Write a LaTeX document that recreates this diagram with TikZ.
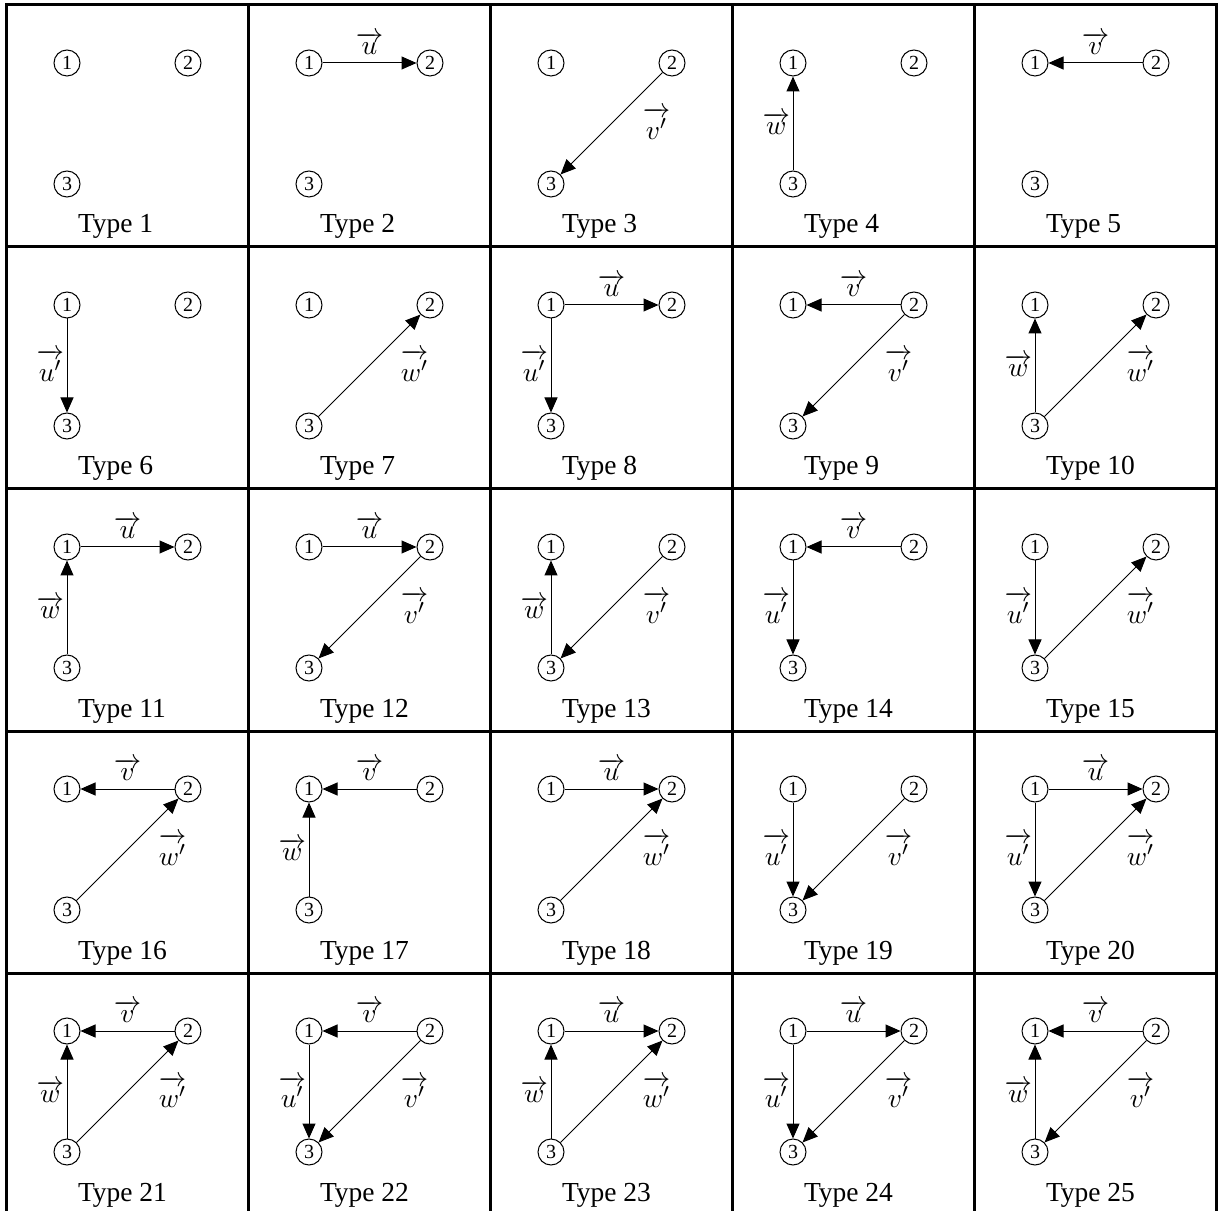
\documentclass[tikz,border=0pt]{standalone}
\usepackage{amsmath,amssymb}
\usepackage{fontspec}
\setmainfont{Liberation Serif}
\usepackage{tikz}
\usetikzlibrary{arrows.meta,calc,positioning}
\newcommand{\vecu}{\overrightarrow{u}}
\newcommand{\vecv}{\overrightarrow{v}}
\newcommand{\vecw}{\overrightarrow{w}}
\newcommand{\vecup}{\overrightarrow{u'}}
\newcommand{\vecvp}{\overrightarrow{v'}}
\newcommand{\vecwp}{\overrightarrow{w'}}
\newcommand{\typecell}[3]{%
  \begin{scope}[shift={(6.5+242*#2,5+242*#3)}]
    \node[pt] (t#1-1) at (60.5,58) {1};
    \node[pt] (t#1-2) at (181.5,58) {2};
    \node[pt] (t#1-3) at (60.5,179) {3};
    \node[lbl] (l#1) at (71,228) {Type #1};
  \end{scope}}
\newcommand{\edgeu}[1]{\draw[vec] (t#1-1) -- node[above] {$\vecu$} (t#1-2);}
\newcommand{\edgev}[1]{\draw[vec] (t#1-2) -- node[above] {$\vecv$} (t#1-1);}
\newcommand{\edgew}[1]{\draw[vec] (t#1-3) -- node[left,inner sep=1pt] {$\vecw$} (t#1-1);}
\newcommand{\edgeup}[1]{\draw[vec] (t#1-1) -- node[left,inner sep=1pt] {$\vecup$} (t#1-3);}
\newcommand{\edgevp}[1]{\draw[vec] (t#1-2) -- node[right=9pt] {$\vecvp$} (t#1-3);}
\newcommand{\edgewp}[1]{\draw[vec] (t#1-3) -- node[right=9pt] {$\vecwp$} (t#1-2);}

\begin{document}
\begin{tikzpicture}[x=0.4pt,y=-0.4pt,font=\fontsize{11}{13}\selectfont,
  pt/.style={circle,draw,line width=0.4pt,minimum size=10.4pt,inner sep=0pt,font=\fontsize{8}{9}\selectfont},
  lbl/.style={anchor=base west,inner sep=0pt},
  vec/.style={line width=0.4pt,-{Triangle[length=6pt,width=5.2pt]}},
  grid/.style={line width=1.2pt}]
  \useasboundingbox (0,0) rectangle (1220,1211);
  \draw[grid] (6.5,5) rectangle (1216.5,1214);
  \foreach \i in {1,...,4} {
    \draw[grid] (6.5+242*\i,5) -- (6.5+242*\i,1214);
    \draw[grid] (6.5,5+242*\i) -- (1216.5,5+242*\i);
  }
  \typecell{1}{0}{0}
  \typecell{2}{1}{0} \edgeu{2}
  \typecell{3}{2}{0} \edgevp{3}
  \typecell{4}{3}{0} \edgew{4}
  \typecell{5}{4}{0} \edgev{5}
  \typecell{6}{0}{1} \edgeup{6}
  \typecell{7}{1}{1} \edgewp{7}
  \typecell{8}{2}{1} \edgeu{8} \edgeup{8}
  \typecell{9}{3}{1} \edgev{9} \edgevp{9}
  \typecell{10}{4}{1} \edgew{10} \edgewp{10}
  \typecell{11}{0}{2} \edgeu{11} \edgew{11}
  \typecell{12}{1}{2} \edgeu{12} \edgevp{12}
  \typecell{13}{2}{2} \edgew{13} \edgevp{13}
  \typecell{14}{3}{2} \edgev{14} \edgeup{14}
  \typecell{15}{4}{2} \edgeup{15} \edgewp{15}
  \typecell{16}{0}{3} \edgev{16} \edgewp{16}
  \typecell{17}{1}{3} \edgew{17} \edgev{17}
  \typecell{18}{2}{3} \edgeu{18} \edgewp{18}
  \typecell{19}{3}{3} \edgeup{19} \edgevp{19}
  \typecell{20}{4}{3} \edgeu{20} \edgeup{20} \edgewp{20}
  \typecell{21}{0}{4} \edgev{21} \edgew{21} \edgewp{21}
  \typecell{22}{1}{4} \edgev{22} \edgeup{22} \edgevp{22}
  \typecell{23}{2}{4} \edgeu{23} \edgew{23} \edgewp{23}
  \typecell{24}{3}{4} \edgeu{24} \edgeup{24} \edgevp{24}
  \typecell{25}{4}{4} \edgev{25} \edgew{25} \edgevp{25}
\end{tikzpicture}
\end{document}
